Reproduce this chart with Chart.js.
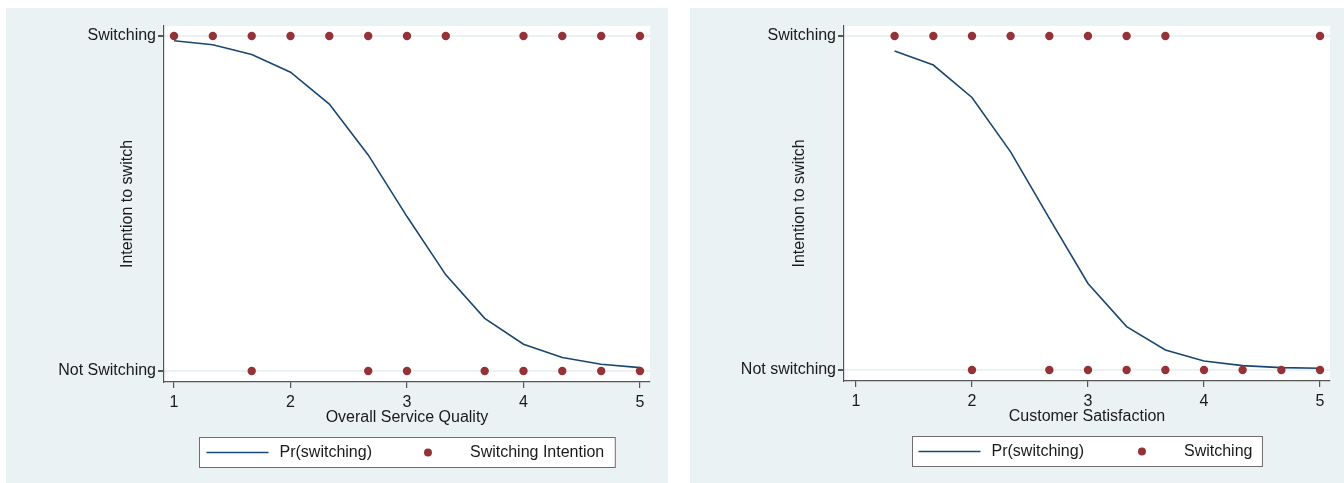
<!DOCTYPE html>
<html>
<head>
<meta charset="utf-8">
<script src="https://cdn.jsdelivr.net/npm/chart.js@4.4.1/dist/chart.umd.min.js"></script>
<style>
    body { margin: 0; background: #ffffff; width: 1344px; height: 483px; overflow: hidden; position: relative; }
    .painel { position: absolute; top: 8px; height: 475px; background: #eaf2f3; }
    #painelQualidade { left: 6px; width: 662px; }
    #painelSatisfacao { left: 690px; width: 654px; }
</style>
</head>
<body>
<div class="painel" id="painelQualidade"><canvas id="graficoQualidade" width="662" height="475"></canvas></div>
<div class="painel" id="painelSatisfacao"><canvas id="graficoSatisfacao" width="654" height="475"></canvas></div>
<script>
// valores
const xTicks = [1, 2, 3, 4, 5];
const yTicks = [0, 1];

// painel 1 - Overall Service Quality
const qualidadeX = [1, 1.333, 1.667, 2, 2.333, 2.667, 3, 3.333, 3.667, 4, 4.333, 4.667, 5];
const qualidadePr = [0.986, 0.974, 0.945, 0.892, 0.797, 0.645, 0.461, 0.287, 0.157, 0.080, 0.040, 0.020, 0.010];
const qualidadeSimX = [1, 1.333, 1.667, 2, 2.333, 2.667, 3, 3.333, 4, 4.333, 4.667, 5];
const qualidadeNaoX = [1.667, 2.667, 3, 3.667, 4, 4.333, 4.667, 5];
const qualidadeRotulosY = ["Not Switching", "Switching"];

// painel 2 - Customer Satisfaction
const satisfacaoX = [1.333, 1.667, 2, 2.333, 2.667, 3, 3.333, 3.667, 4, 4.333, 4.667, 5];
const satisfacaoPr = [0.955, 0.913, 0.816, 0.653, 0.454, 0.259, 0.130, 0.060, 0.027, 0.013, 0.007, 0.005];
const satisfacaoSimX = [1.333, 1.667, 2, 2.333, 2.667, 3, 3.333, 3.667, 5];
const satisfacaoNaoX = [2, 2.667, 3, 3.333, 3.667, 4, 4.333, 4.667, 5];
const satisfacaoRotulosY = ["Not switching", "Switching"];

const corLinha = "#1a476f";
const corPonto = "#943237";
const corTexto = "#1a1a1a";
const fonte = "'Liberation Sans', Arial, sans-serif";

// fundo branco da area do grafico
const fundoArea = {
    id: "fundoArea",
    beforeDraw(chart) {
        const a = chart.chartArea;
        chart.ctx.save();
        chart.ctx.fillStyle = "#ffffff";
        chart.ctx.fillRect(a.left, a.top, a.right - a.left, a.bottom - a.top);
        chart.ctx.restore();
    }
};

// legenda em caixa, estilo Stata
const legendaCaixa = {
    id: "legendaCaixa",
    afterDraw(chart, args, opts) {
        const ctx = chart.ctx;
        const a = chart.chartArea;
        const ds = chart.data.datasets;
        ctx.save();
        ctx.font = "16px " + fonte;
        const t1 = ds[0].label, t2 = ds[1].label;
        const w1 = ctx.measureText(t1).width, w2 = ctx.measureText(t2).width;
        const largura = opts.padL + 62 + 11 + w1 + opts.gap + 62 + 11 + w2 + opts.padR;
        const x0 = Math.round((a.left + a.right) / 2 - largura / 2) + 0.5;
        const y0 = a.bottom + 55 + 0.5;
        const alt = 30;
        ctx.fillStyle = "#ffffff";
        ctx.fillRect(x0, y0, largura, alt);
        ctx.strokeStyle = "#6e6e6e";
        ctx.lineWidth = 1;
        ctx.strokeRect(x0, y0, largura, alt);
        const ym = y0 + alt / 2;
        let x = x0 + opts.padL;
        ctx.strokeStyle = ds[0].borderColor;
        ctx.lineWidth = ds[0].borderWidth;
        ctx.beginPath();
        ctx.moveTo(x, ym);
        ctx.lineTo(x + 62, ym);
        ctx.stroke();
        x += 62 + 11;
        ctx.fillStyle = corTexto;
        ctx.textBaseline = "middle";
        ctx.fillText(t1, x, ym);
        x += w1 + opts.gap;
        ctx.fillStyle = ds[1].backgroundColor;
        ctx.beginPath();
        ctx.arc(x + 31, ym, 4, 0, Math.PI * 2);
        ctx.fill();
        x += 62 + 11;
        ctx.fillStyle = corTexto;
        ctx.fillText(t2, x, ym);
        ctx.restore();
    }
};

function montarGrafico(idCanvas, cfg) {
    const pontos = cfg.simX.map(v => ({ x: v, y: 1 })).concat(cfg.naoX.map(v => ({ x: v, y: 0 })));
    const curva = cfg.curvaX.map((v, i) => ({ x: v, y: cfg.curvaY[i] }));

    const ctx = document.getElementById(idCanvas).getContext("2d");
    return new Chart(ctx, {
        type: "scatter",
        data: {
            datasets: [{
                label: "Pr(switching)",
                data: curva,
                showLine: true,
                borderColor: corLinha,
                backgroundColor: corLinha,
                borderWidth: 1.6,
                pointRadius: 0,
                tension: 0,
                order: 1
            }, {
                label: cfg.rotuloPontos,
                data: pontos,
                backgroundColor: corPonto,
                borderColor: corPonto,
                borderWidth: 0,
                pointRadius: 4.2,
                order: 0
            }]
        },
        options: {
            responsive: false,
            animation: false,
            layout: {
                padding: { left: 0, top: 18, right: cfg.padDireita, bottom: 0 }
            },
            plugins: {
                legend: { display: false },
                tooltip: { enabled: false },
                legendaCaixa: cfg.legenda
            },
            scales: {
                x: {
                    type: "linear",
                    min: cfg.xMin,
                    max: 5.086,
                    afterBuildTicks: s => { s.ticks = xTicks.map(v => ({ value: v })); },
                    afterFit: s => { s.height = cfg.alturaX; },
                    border: { color: "#555555", width: 1.2 },
                    grid: { drawOnChartArea: false, tickLength: 6, tickColor: "#555555", lineWidth: 1.2 },
                    ticks: { color: corTexto, padding: 5, font: { family: fonte, size: 16 } },
                    title: {
                        display: true,
                        text: cfg.tituloX,
                        color: corTexto,
                        font: { family: fonte, size: 16 },
                        padding: { top: 0, bottom: cfg.padTituloX }
                    }
                },
                y: {
                    type: "linear",
                    min: -0.033,
                    max: 1.03,
                    afterBuildTicks: s => { s.ticks = yTicks.map(v => ({ value: v })); },
                    afterFit: s => { s.width = cfg.larguraY; },
                    border: { color: "#555555", width: 1.2 },
                    grid: { color: "#eaf2f3", lineWidth: 2, tickLength: 6, tickColor: "#555555" },
                    ticks: {
                        color: corTexto,
                        padding: 2,
                        font: { family: fonte, size: 16 },
                        callback: v => cfg.rotulosY[yTicks.indexOf(v)]
                    },
                    title: {
                        display: true,
                        text: "Intention to switch",
                        color: corTexto,
                        font: { family: fonte, size: 16 },
                        padding: { top: cfg.padTituloY, bottom: 0 }
                    }
                }
            }
        },
        plugins: [fundoArea, legendaCaixa]
    });
}

montarGrafico("graficoQualidade", {
    curvaX: qualidadeX, curvaY: qualidadePr,
    simX: qualidadeSimX, naoX: qualidadeNaoX,
    rotulosY: qualidadeRotulosY,
    rotuloPontos: "Switching Intention",
    tituloX: "Overall Service Quality",
    xMin: 0.914, padDireita: 18, larguraY: 158, alturaX: 101,
    padTituloX: 56, padTituloY: 112,
    legenda: { padL: 7, padR: 11, gap: 25 }
});

montarGrafico("graficoSatisfacao", {
    curvaX: satisfacaoX, curvaY: satisfacaoPr,
    simX: satisfacaoSimX, naoX: satisfacaoNaoX,
    rotulosY: satisfacaoRotulosY,
    rotuloPontos: "Switching",
    tituloX: "Customer Satisfaction",
    xMin: 0.897, padDireita: 14, larguraY: 154, alturaX: 102,
    padTituloX: 57, padTituloY: 100,
    legenda: { padL: 6, padR: 10, gap: 27 }
});
</script>
</body>
</html>
